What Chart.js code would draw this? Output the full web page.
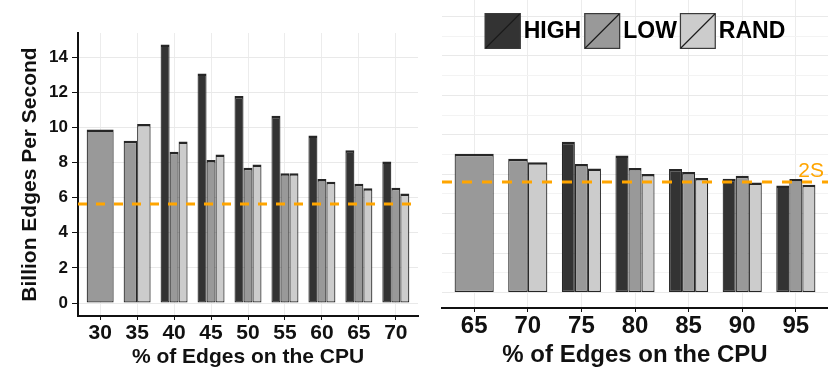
<!DOCTYPE html>
<html><head><meta charset="utf-8">
<script src="https://cdn.jsdelivr.net/npm/chart.js@4/dist/chart.umd.min.js"></script>
<style>
html,body{margin:0;padding:0;background:#fff;}
#wrap{position:relative;width:828px;height:370px;overflow:hidden;}
#c1{position:absolute;left:0;top:0;}
#c2{position:absolute;left:420px;top:0;}
</style></head><body>
<div id="wrap">
<canvas id="c1" width="420" height="370"></canvas>
<canvas id="c2" width="408" height="370"></canvas>
</div>
<script>
// ---- data ----
const seriesNames = ['HIGH', 'LOW', 'RAND'];

const leftCategories = [30, 35, 40, 45, 50, 55, 60, 65, 70];
const leftHigh = [null, null, 14.72, 13.07, 11.78, 10.66, 9.54, 8.69, 8.06];
const leftLow  = [9.88, 9.24, 8.61, 8.14, 7.70, 7.38, 7.06, 6.79, 6.56];
const leftRand = [null, 10.19, 9.20, 8.46, 7.89, 7.38, 6.90, 6.53, 6.24];
const leftYTicks = [0, 2, 4, 6, 8, 10, 12, 14];
const leftRef = 5.63;

const rightCategories = [65, 70, 75, 80, 85, 90, 95];
const rightHigh = [null, null, 7.65, 6.95, 6.26, 5.77, 5.43];
const rightLow  = [7.04, 6.79, 6.52, 6.31, 6.11, 5.92, 5.76];
const rightRand = [null, 6.60, 6.29, 6.01, 5.81, 5.58, 5.47];
const rightRef = 5.60;
const refLabel = '2S';

const xTitle = '% of Edges on the CPU';
const yTitle = 'Billion Edges Per Second';

// ---- style ----
const FONT = '"Liberation Sans", Arial, Helvetica, sans-serif';
const colors = ['#333333', '#999999', '#cccccc'];
const refColor = '#FFA500';
Chart.defaults.font.family = FONT;
Chart.defaults.color = '#111';

function makeDatasets(cats, arrays) {
  return arrays.map((arr, i) => ({
    label: seriesNames[i],
    data: cats.map((c, j) => ({ x: c, y: arr[j] })),
    backgroundColor: colors[i],
    borderColor: '#262626',
    borderWidth: { top: 2.5, left: 1.2, right: 1.2, bottom: 1.2 },
    borderSkipped: false,
    categoryPercentage: 0.73,
    barPercentage: 1,
    skipNull: true
  }));
}

const refLinePlugin = {
  id: 'refLine',
  afterDatasetsDraw(chart, args, opts) {
    const { ctx, chartArea: a, scales: { y } } = chart;
    const py = y.getPixelForValue(opts.value);
    ctx.save();
    ctx.strokeStyle = refColor;
    ctx.lineWidth = 3;
    ctx.setLineDash(opts.dash);
    ctx.beginPath();
    ctx.moveTo(a.left, py);
    ctx.lineTo(a.right, py);
    ctx.stroke();
    if (opts.label) {
      ctx.setLineDash([]);
      ctx.fillStyle = refColor;
      ctx.font = '21px ' + FONT;
      ctx.textAlign = 'right';
      ctx.textBaseline = 'alphabetic';
      ctx.fillText(opts.label, a.right - 4, py - 5);
    }
    ctx.restore();
  }
};

const boxLegendPlugin = {
  id: 'boxLegend',
  afterDraw(chart, args, opts) {
    if (!opts.show) return;
    const { ctx, chartArea: a } = chart;
    ctx.save();
    ctx.font = 'bold ' + opts.fontSize + 'px ' + FONT;
    const items = chart.data.datasets.map(d => ({
      label: d.label, color: d.backgroundColor, w: ctx.measureText(d.label).width
    }));
    const box = opts.box, gap = opts.gap;
    const total = items.reduce((s, it) => s + box + gap + it.w, 0) + gap * (items.length - 1);
    let x = (a.left + a.right) / 2 - total / 2;
    const top = opts.top;
    items.forEach(it => {
      ctx.fillStyle = it.color;
      ctx.fillRect(x, top, box, box);
      ctx.strokeStyle = '#3a3a3a';
      ctx.lineWidth = 1.2;
      ctx.strokeRect(x + 0.6, top + 0.6, box - 1.2, box - 1.2);
      ctx.strokeStyle = '#1a1a1a';
      ctx.beginPath();
      ctx.moveTo(x + 1, top + box - 1);
      ctx.lineTo(x + box - 1, top + 1);
      ctx.stroke();
      ctx.fillStyle = '#000';
      ctx.textBaseline = 'middle';
      ctx.textAlign = 'left';
      ctx.fillText(it.label, x + box + gap, top + box / 2 + 1);
      x += box + gap + it.w + gap;
    });
    ctx.restore();
  }
};

function makeChart(el, cfg) {
  const ds = makeDatasets(cfg.cats, cfg.series);
  return new Chart(el, {
    type: 'bar',
    data: { datasets: ds },
    plugins: [refLinePlugin, boxLegendPlugin],
    options: {
      responsive: false,
      animation: false,
      devicePixelRatio: 1,
      layout: { padding: cfg.padding },
      plugins: {
        legend: { display: false },
        tooltip: { enabled: false },
        refLine: { value: cfg.ref, dash: cfg.dash, label: cfg.refLabel },
        boxLegend: { show: cfg.legend, fontSize: 23, box: 36, gap: 3, top: 13 }
      },
      scales: {
        x: {
          type: 'linear',
          offset: false,
          min: cfg.xMin, max: cfg.xMax,
          afterBuildTicks: s => { s.ticks = cfg.cats.map(v => ({ value: v })); },
          afterFit: s => { s.height = cfg.xHeight; },
          ticks: {
            autoSkip: false, maxRotation: 0, padding: cfg.xTickPad,
            font: { size: cfg.xTickSize, weight: 'bold' }, color: '#111',
            callback: v => String(v)
          },
          grid: { offset: false, color: '#ececec', tickColor: '#111', tickLength: 4, lineWidth: 1 },
          border: { display: true, color: '#111', width: 2 },
          title: {
            display: true, text: xTitle, color: '#111', padding: { top: 0, bottom: 0 },
            font: { size: cfg.xTitleSize, weight: 'bold' }
          }
        },
        y: {
          min: cfg.yMin, max: cfg.yMax,
          afterBuildTicks: s => {
            const t = [];
            for (let v = 0; v <= Math.floor(cfg.yMax); v++) t.push({ value: v });
            s.ticks = t;
          },
          afterFit: s => { s.width = cfg.yWidth; },
          ticks: {
            display: cfg.yLabels, padding: 4,
            font: { size: 17, weight: 'bold' }, color: '#111',
            callback: v => (leftYTicks.includes(v) ? String(v) : '')
          },
          grid: {
            drawTicks: cfg.yLabels,
            tickLength: 6,
            tickColor: c => (leftYTicks.includes(c.tick.value) ? '#111' : 'rgba(0,0,0,0)'),
            color: c => (c.tick && c.tick.value % 2 === 0 ? '#e9e9e9' : '#f3f3f3'),
            lineWidth: 1
          },
          border: { display: cfg.yLabels, color: '#111', width: 2 },
          title: {
            display: cfg.yLabels, text: yTitle, color: '#111',
            padding: { top: 18, bottom: 0 },
            font: { size: 21, weight: 'bold' }
          }
        }
      }
    }
  });
}

makeChart(document.getElementById('c1'), {
  cats: leftCategories,
  series: [leftHigh, leftLow, leftRand],
  ref: leftRef, dash: [9, 9], refLabel: '',
  legend: false,
  padding: { top: 33, right: 2, left: 0, bottom: 0 },
  xMin: 27, xMax: 73, xHeight: 54, xTickPad: 1, xTickSize: 21, xTitleSize: 21,
  yMin: -0.74, yMax: 15.37, yWidth: 78, yLabels: true
});

makeChart(document.getElementById('c2'), {
  cats: rightCategories,
  series: [rightHigh, rightLow, rightRand],
  ref: rightRef, dash: [10, 10], refLabel: refLabel,
  legend: true,
  padding: { top: 0, right: 0, left: 0, bottom: 0 },
  xMin: 62, xMax: 98, xHeight: 62, xTickPad: 0, xTickSize: 24, xTitleSize: 24,
  yMin: -0.79, yMax: 14.84, yWidth: 22, yLabels: false
});
</script>
</body></html>
